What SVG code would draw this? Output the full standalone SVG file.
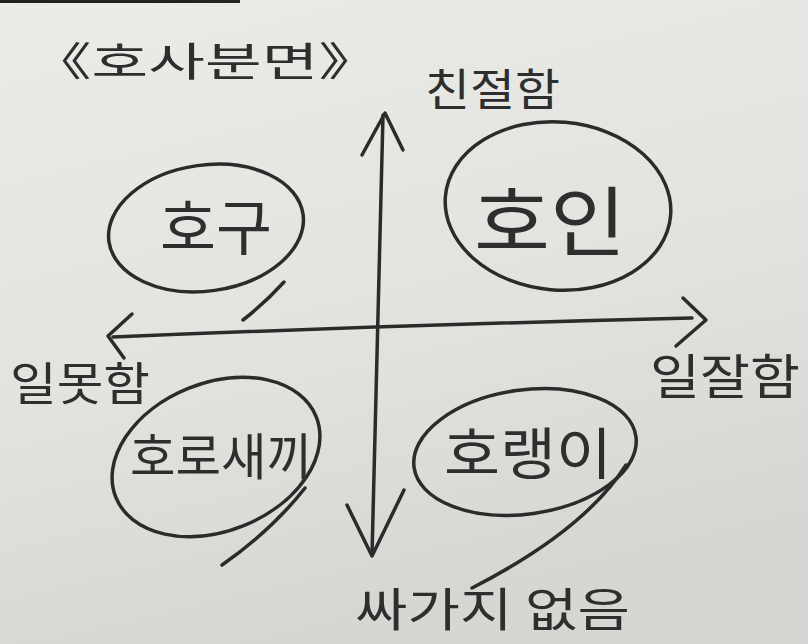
<svg xmlns="http://www.w3.org/2000/svg" width="808" height="644" viewBox="0 0 808 644">
<defs>
<linearGradient id="paper" x1="0" y1="0" x2="0.3" y2="1">
<stop offset="0" stop-color="#ebece8"/>
<stop offset="0.6" stop-color="#e2e3df"/>
<stop offset="1" stop-color="#d6d7d3"/>
</linearGradient>
<style>
.ink{fill:none;stroke:#2b2b2b;stroke-width:3.5;stroke-linecap:round;stroke-linejoin:round}
.t{font-family:"Noto Sans CJK KR","Noto Sans",sans-serif;fill:#2e2e2e;font-weight:400}
</style>
</defs>
<rect width="808" height="644" fill="url(#paper)"/>
<rect x="0" y="0" width="240" height="3" fill="#222"/>
<text class="t" x="30" y="76" font-size="40" textLength="350" lengthAdjust="spacingAndGlyphs">《호사분면》</text>
<g id="connectors">
<path class="ink" d="M383,115 Q378,330 372,555"/>
<path class="ink" d="M362,155 L385,113 L403,150"/>
<path class="ink" d="M347,505 L372,556 L404,490"/>
<path class="ink" d="M113,337 Q400,325 692,318"/>
<path class="ink" d="M132,314 L108,336 L124,358"/>
<path class="ink" d="M683,298 L706,320 L676,346"/>
</g>
<g id="axis-labels">
<text class="t" x="425" y="106" font-size="44" textLength="135" lengthAdjust="spacingAndGlyphs">친절함</text>
<text class="t" x="10" y="400" font-size="46" textLength="140" lengthAdjust="spacingAndGlyphs">일못함</text>
<text class="t" x="650" y="394" font-size="48" textLength="150" lengthAdjust="spacingAndGlyphs">일잘함</text>
<text class="t" x="355" y="626" font-size="46" textLength="275" lengthAdjust="spacingAndGlyphs">싸가지 없음</text>
</g>
<g id="node-hogu">
<ellipse class="ink" cx="206" cy="228" rx="98" ry="63" transform="rotate(-8 206 228)"/>
<path class="ink" d="M284,282 Q266,302 243,320"/>
<text class="t" x="160" y="250" font-size="60" textLength="112" lengthAdjust="spacingAndGlyphs">호구</text>
</g>
<g id="node-hoin">
<ellipse class="ink" cx="558" cy="206" rx="113" ry="84" transform="rotate(5 558 206)"/>
<text class="t" x="474" y="250" font-size="76" textLength="152" lengthAdjust="spacingAndGlyphs">호인</text>
</g>
<g id="node-horosaekki">
<ellipse class="ink" cx="216" cy="457" rx="108" ry="74" transform="rotate(-22 216 457)"/>
<path class="ink" d="M305,488 Q272,530 222,565"/>
<text class="t" x="130" y="475" font-size="50" textLength="182" lengthAdjust="spacingAndGlyphs">호로새끼</text>
</g>
<g id="node-horaengi">
<ellipse class="ink" cx="525" cy="452" rx="112" ry="62" transform="rotate(-8 525 452)"/>
<path class="ink" d="M626,465 Q585,530 472,588"/>
<text class="t" x="444" y="474" font-size="56" textLength="168" lengthAdjust="spacingAndGlyphs">호랭이</text>
</g>
</svg>
